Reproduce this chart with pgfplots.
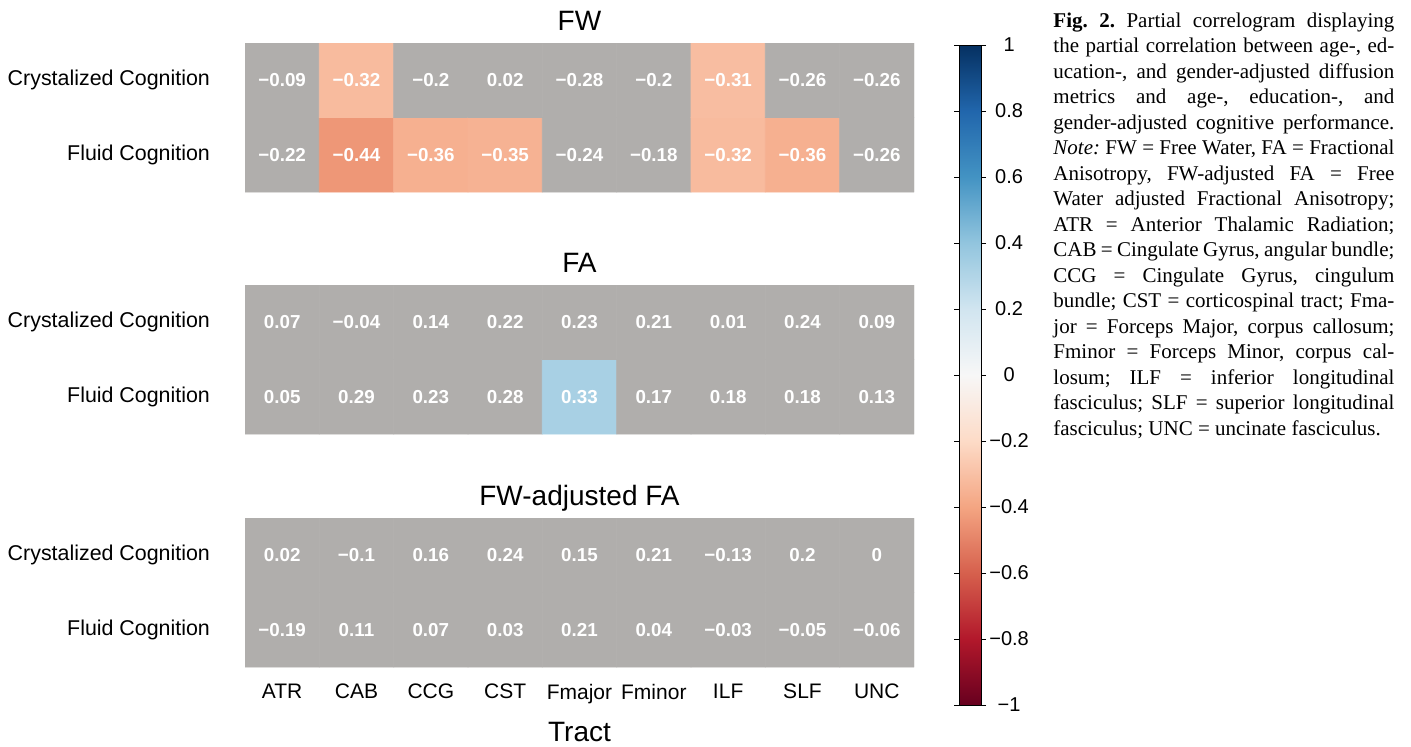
\documentclass[border=0pt]{standalone}
\usepackage{fontspec}
\setmainfont{Liberation Serif}
\newfontfamily\arial{Liberation Sans}
\usepackage{pgfplots}
\usepackage{pgfplotstable}
\pgfplotsset{compat=1.18}
\pgfplotsset{
  colormap={RdBu}{rgb255=(103,0,31) rgb255=(178,24,43) rgb255=(214,96,77) rgb255=(244,165,130) rgb255=(253,219,199) rgb255=(247,247,247) rgb255=(209,229,240) rgb255=(146,197,222) rgb255=(67,147,195) rgb255=(33,102,172) rgb255=(5,48,97)},
  colormap={RdBuGrey}{rgb255=(103,0,31) rgb255=(178,24,43) rgb255=(214,96,77) rgb255=(244,165,130) rgb255=(253,219,199) rgb255=(247,247,247) rgb255=(209,229,240) rgb255=(146,197,222) rgb255=(67,147,195) rgb255=(33,102,172) rgb255=(5,48,97) rgb255=(176,174,172) rgb255=(176,174,172) rgb255=(176,174,172) rgb255=(176,174,172) rgb255=(176,174,172)},
  rsheat/.style={scale only axis, width=334.5pt, height=74.5pt, anchor=north west,
    xmin=-0.5, xmax=8.5, ymin=-0.5, ymax=1.5,
    axis line style={draw=none}, major tick length=0pt, tick style={draw=none},
    ytick={0,1}, yticklabels={Fluid Cognition,Crystalized Cognition},
    yticklabel style={font=\arial\fontsize{10.7}{12}\selectfont, xshift=-14pt},
    colormap name=RdBuGrey, point meta min=-1, point meta max=2,
    title style={at={(axis description cs:0.5,1)}, anchor=base, yshift=0.5pt, font=\arial\fontsize{14}{16}\selectfont},
  },
}
% c = 2 marks a non-significant (grey) cell; lab = printed value
\pgfplotstableread{
x y c lab
0 0 2 −0.22
1 0 -0.44 −0.44
2 0 -0.36 −0.36
3 0 -0.35 −0.35
4 0 2 −0.24
5 0 2 −0.18
6 0 -0.32 −0.32
7 0 -0.36 −0.36
8 0 2 −0.26
0 1 2 −0.09
1 1 -0.32 −0.32
2 1 2 −0.2
3 1 2 0.02
4 1 2 −0.28
5 1 2 −0.2
6 1 -0.31 −0.31
7 1 2 −0.26
8 1 2 −0.26
}\fwtab
\pgfplotstableread{
x y c lab
0 0 2 0.05
1 0 2 0.29
2 0 2 0.23
3 0 2 0.28
4 0 0.33 0.33
5 0 2 0.17
6 0 2 0.18
7 0 2 0.18
8 0 2 0.13
0 1 2 0.07
1 1 2 −0.04
2 1 2 0.14
3 1 2 0.22
4 1 2 0.23
5 1 2 0.21
6 1 2 0.01
7 1 2 0.24
8 1 2 0.09
}\fatab
\pgfplotstableread{
x y c lab
0 0 2 −0.19
1 0 2 0.11
2 0 2 0.07
3 0 2 0.03
4 0 2 0.21
5 0 2 0.04
6 0 2 −0.03
7 0 2 −0.05
8 0 2 −0.06
0 1 2 0.02
1 1 2 −0.1
2 1 2 0.16
3 1 2 0.24
4 1 2 0.15
5 1 2 0.21
6 1 2 −0.13
7 1 2 0.2
8 1 2 0
}\fwfatab
\newcommand\heatcells[1]{\addplot[matrix plot*, mesh/cols=9, point meta=explicit] table[x=x, y=y, meta=c] {#1};}
\newcommand\heatlabels[1]{\addplot[only marks, mark=none, point meta=explicit symbolic,
    nodes near coords={\pgfplotspointmeta},
    nodes near coords style={anchor=center, text=white, font=\arial\bfseries\fontsize{9.4}{11}\selectfont}]
    table[x=x, y=y, meta=lab] {#1};}
\begin{document}
\begin{tikzpicture}
\useasboundingbox (0,0) rectangle (705.5pt,-373pt);
\begin{axis}[rsheat, at={(122.5pt,-21.5pt)}, title={FW}, xtick=\empty]
\heatcells{\fwtab}
\heatlabels{\fwtab}
\end{axis}
\begin{axis}[rsheat, at={(122.5pt,-142.5pt)}, title={FA}, xtick=\empty]
\heatcells{\fatab}
\heatlabels{\fatab}
\end{axis}
\begin{axis}[rsheat, at={(122.5pt,-259pt)}, title={FW-adjusted FA},
  xtick={0,1,2,3,4,5,6,7,8}, xticklabels={ATR,CAB,CCG,CST,Fmajor,Fminor,ILF,SLF,UNC},
  xticklabel style={font=\arial\fontsize{10.5}{12}\selectfont, yshift=-5pt},
  xlabel={Tract}, xlabel style={at={(axis description cs:0.5,0)}, anchor=base, yshift=-37pt, font=\arial\fontsize{14}{16}\selectfont}]
\heatcells{\fwfatab}
\heatlabels{\fwfatab}
\end{axis}
\begin{axis}[at={(471pt,-22.5pt)}, anchor=north west, scale only axis, width=11pt, height=330pt,
  hide axis, colormap name=RdBu, point meta min=-1, point meta max=1, colorbar,
  colorbar style={at={(parent axis.north west)}, anchor=north west, width=11pt, height=330pt,
    ytick={-1,-0.8,-0.6,-0.4,-0.2,0,0.2,0.4,0.6,0.8,1},
    yticklabels={−1,−0.8,−0.6,−0.4,−0.2,0,0.2,0.4,0.6,0.8,1},
    yticklabel style={font=\arial\fontsize{10}{12}\selectfont, anchor=center, xshift=11.5pt},
    tick align=outside, major tick length=2.5pt, tick style={black, line width=0.4pt},
    axis line style={black, line width=0.5pt}}]
\addplot[draw=none] coordinates {(0,0)};
\end{axis}
\node[anchor=base west, inner sep=0pt] at (526.5pt,-13.5pt) {\vtop{\fontsize{10.5}{12.75}\selectfont\frenchspacing\hsize=170.5pt
\hbox to\hsize{\textbf{Fig. 2.} Partial correlogram displaying}
\hbox to\hsize{the partial correlation between age-, ed-}
\hbox to\hsize{ucation-, and gender-adjusted diffusion}
\hbox to\hsize{metrics and age-, education-, and}
\hbox to\hsize{gender-adjusted cognitive performance.}
\hbox to\hsize{\textit{Note:} FW = Free Water, FA = Fractional}
\hbox to\hsize{Anisotropy, FW-adjusted FA = Free}
\hbox to\hsize{Water adjusted Fractional Anisotropy;}
\hbox to\hsize{ATR = Anterior Thalamic Radiation;}
\hbox to\hsize{CAB = Cingulate Gyrus, angular bundle;}
\hbox to\hsize{CCG = Cingulate Gyrus, cingulum}
\hbox to\hsize{bundle; CST = corticospinal tract; Fma-}
\hbox to\hsize{jor = Forceps Major, corpus callosum;}
\hbox to\hsize{Fminor = Forceps Minor, corpus cal-}
\hbox to\hsize{losum; ILF = inferior longitudinal}
\hbox to\hsize{fasciculus; SLF = superior longitudinal}
\hbox{fasciculus; UNC = uncinate fasciculus.}}};
\end{tikzpicture}
\end{document}
